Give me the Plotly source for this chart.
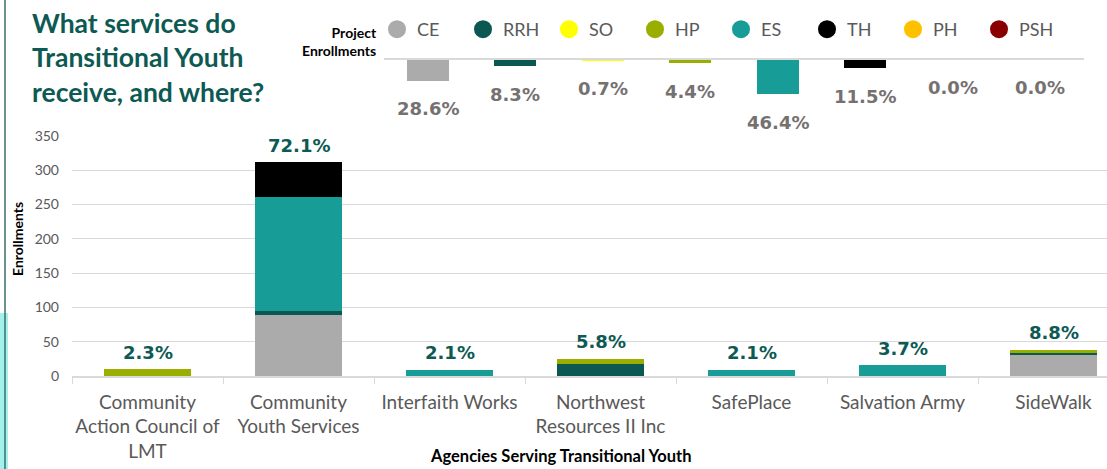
import plotly.graph_objects as go

# ---------------- data ----------------
agencies = ["Community Action Council of LMT", "Community Youth Services", "Interfaith Works",
            "Northwest Resources II Inc", "SafePlace", "Salvation Army", "SideWalk"]
agency_ticks = ["Community<br>Action Council of<br>LMT", "Community<br>Youth Services", "Interfaith Works",
                "Northwest<br>Resources II Inc", "SafePlace", "Salvation Army", "SideWalk"]
agency_pct = ["2.3%", "72.1%", "2.1%", "5.8%", "2.1%", "3.7%", "8.8%"]

types = ["CE", "RRH", "SO", "HP", "ES", "TH", "PH", "PSH"]
ce = [0, 89, 0, 0, 0, 0, 30]
rrh = [0, 6, 0, 17, 0, 0, 4]
so = [0, 0, 0, 0, 0, 0, 0]
hp = [10, 0, 0, 8, 0, 0, 4]
es = [0, 166, 9, 0, 9, 16, 0]
th = [0, 51, 0, 0, 0, 0, 0]
ph = [0, 0, 0, 0, 0, 0, 0]
psh = [0, 0, 0, 0, 0, 0, 0]
type_share = [28.6, 8.3, 0.7, 4.4, 46.4, 11.5, 0.0, 0.0]

colors = {"CE": "#ABABAB", "RRH": "#0B5852", "SO": "#FFFF00", "HP": "#9AAE00",
          "ES": "#179C97", "TH": "#000000", "PH": "#FFC000", "PSH": "#8A0000"}
series = {"CE": ce, "RRH": rrh, "SO": so, "HP": hp, "ES": es, "TH": th, "PH": ph, "PSH": psh}

TEAL = "#0D5A54"
GRID = "#D9D9D9"
TXT = "#595959"

# ---------------- geometry helpers (pixels -> paper) ----------------
W, H = 1107, 469
ML, MR, MT, MB = 72, 0, 0, 93
PW, PH_ = W - ML - MR, H - MT - MB


def px(x):
    return (x - ML) / PW


def py(y):
    return (MT + PH_ - y) / PH_


fig = go.Figure()

# main stacked bars
for t in types:
    fig.add_trace(go.Bar(x=agencies, y=series[t], name=t, marker_color=colors[t],
                         marker_line_width=0, width=0.57, showlegend=False,
                         xaxis="x", yaxis="y", hoverinfo="skip"))

# mini share bars (downward)
fig.add_trace(go.Bar(x=types, y=[-v for v in type_share], marker_color=[colors[t] for t in types],
                     marker_line_width=0, width=0.48, showlegend=False,
                     xaxis="x2", yaxis="y2", hoverinfo="skip"))

# legend entries (circles)
for t in types:
    fig.add_trace(go.Scatter(x=[None], y=[None], mode="markers", name=t,
                             marker=dict(symbol="circle", size=16, color=colors[t],
                                         line=dict(color=colors[t], width=2)),
                             xaxis="x", yaxis="y"))

annotations = []
totals = [sum(series[t][i] for t in types) for i in range(len(agencies))]
for a, tot, lab in zip(agencies, totals, agency_pct):
    annotations.append(dict(x=a, y=tot, xref="x", yref="y", text=lab, showarrow=False,
                            yanchor="middle", yshift=17,
                            font=dict(family="DejaVu Sans", size=18, color=TEAL, weight="bold")))
for t, v in zip(types, type_share):
    annotations.append(dict(x=t, y=-v, xref="x2", yref="y2", text=f"{v:.1f}%", showarrow=False,
                            yanchor="middle", yshift=-28,
                            font=dict(family="DejaVu Sans", size=18, color="#767171", weight="bold")))

annotations += [
    dict(x=px(30), y=py(5), xref="paper", yref="paper", xanchor="left", yanchor="top", align="left",
         text="What services do<br>Transitional Youth<br>receive, and where?", showarrow=False,
         font=dict(family="Lato", size=26.5, color=TEAL, weight="bold")),
    dict(x=px(379), y=py(41), xref="paper", yref="paper", xanchor="right", yanchor="middle", align="right",
         text="Project<br>Enrollments", showarrow=False,
         font=dict(family="Lato", size=14, color="#000000", weight="bold")),
    dict(x=px(17), y=py(239), xref="paper", yref="paper", xanchor="center", yanchor="middle",
         text="Enrollments", textangle=-90, showarrow=False,
         font=dict(family="Lato", size=14, color="#000000", weight="bold")),
    dict(x=px(560), y=py(468), xref="paper", yref="paper", xanchor="center", yanchor="bottom",
         text="Agencies Serving Transitional Youth", showarrow=False,
         font=dict(family="Lato", size=16.5, color="#000000", weight="bold")),
]

shapes = [
    dict(type="rect", xref="paper", yref="paper", x0=px(0), x1=px(8), y0=py(469), y1=py(313),
         fillcolor="#A3F0EC", line_width=0, layer="above"),
    dict(type="line", xref="paper", yref="paper", x0=px(5), x1=px(5), y0=py(469), y1=py(0),
         line=dict(color="#3B6E6A", width=1.5), layer="above"),
]

fig.update_layout(
    width=W, height=H,
    margin=dict(l=ML, r=MR, t=MT, b=MB, autoexpand=False),
    paper_bgcolor="white", plot_bgcolor="white",
    barmode="stack", bargap=0,
    font=dict(family="Lato", color=TXT),
    xaxis=dict(type="category", domain=[0, 1], range=[-0.5, -0.5 + PW / 151.0],
               tickmode="array", tickvals=agencies, ticktext=agency_ticks, tickangle=0,
               tickson="boundaries", ticks="outside", ticklen=6, tickcolor=GRID, tickwidth=1,
               showline=True, linecolor=GRID, linewidth=1.5, showgrid=False, automargin=False,
               ticklabelstandoff=8,
               tickfont=dict(family="Lato", size=19, color=TXT), anchor="y"),
    yaxis=dict(domain=[0, py(136)], range=[0, 350], dtick=50, gridcolor=GRID, gridwidth=1,
               zeroline=False, showline=False, ticks="", ticklabelstandoff=12, automargin=False,
               tickfont=dict(family="Lato", size=14, color=TXT), anchor="x"),
    xaxis2=dict(type="category", domain=[px(384), px(1084)], anchor="y2", side="top",
                showline=True, linecolor=GRID, linewidth=1.5, showticklabels=False, automargin=False,
                ticks="", showgrid=False, range=[-0.5, 7.5]),
    yaxis2=dict(domain=[py(136), py(60)], range=[-(136 - 60) / 0.733, 0], anchor="x2",
                visible=False, automargin=False),
    legend=dict(orientation="h", x=px(377), y=py(11), xanchor="left", yanchor="top",
                entrywidth=41, entrywidthmode="pixels", itemwidth=30,
                font=dict(family="Lato", size=18, color=TXT), bgcolor="rgba(0,0,0,0)",
                traceorder="normal"),
    annotations=annotations,
    shapes=shapes,
)

fig.write_html("out.html", config={"displayModeBar": False},
               post_script="document.body.style.margin='0';document.body.style.overflow='hidden';")
